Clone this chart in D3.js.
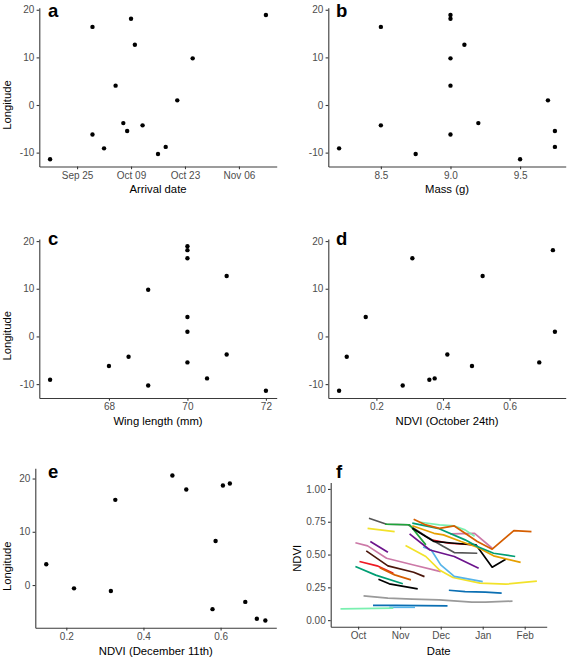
<!DOCTYPE html>
<html><head><meta charset="utf-8">
<script src="https://cdn.jsdelivr.net/npm/d3@7"></script>
<style>
body{margin:0;background:#fff}
svg{display:block}
text{font-family:"Liberation Sans",Arial,sans-serif}
</style>
</head><body>
<svg id="chart" width="567" height="659"></svg>
<script>
// ---------- data: birds (panels a-d) ----------
const arrivalDate = ["2014-09-18","2014-09-29","2014-09-29","2014-10-02","2014-10-05","2014-10-07","2014-10-08","2014-10-09","2014-10-10","2014-10-12","2014-10-16","2014-10-18","2014-10-21","2014-10-25","2014-11-13"];
const longitude   = [-11.4, 16.4, -6.2, -9.1, 4.06, -3.8, -5.45, 18.1, 12.66, -4.27, -10.3, -8.8, 0.98, 9.8, 18.9];
const massG       = [9.5, 8.5, 9.0, 8.2, 9.0, 9.2, 9.75, 9.0, 9.1, 8.5, 8.75, 9.75, 9.7, 9.0, 9.0];
const wingMm      = [72, 70, 68, 66.5, 70, 71, 70, 70, 71, 68.5, 69, 70.5, 70, 69, 70];
const ndviOct24   = [0.088, 0.308, 0.487, 0.359, 0.168, 0.413, 0.689, 0.730, 0.519, 0.111, 0.279, 0.375, 0.736, null, null];

// ---------- data: panel e ----------
const ndviDec11 = [0.148, 0.220, 0.3155, 0.327, 0.475, 0.511, 0.587, 0.579, 0.606, 0.624, 0.664, 0.694, 0.716];
const lonDec11  = [3.91, -0.62, -1.12, 16.0, 20.56, 17.95, 8.26, -4.53, 18.7, 19.07, -3.17, -6.34, -6.65];

// ---------- tick labels ----------
const aTicks = ["2014-09-25","2014-10-09","2014-10-23","2014-11-06"];
const lonTicks = [-10, 0, 10, 20];
const eLonTicks = [0, 10, 20];
const bTicks = [8.5, 9.0, 9.5];
const cTicks = [68, 70, 72];
const ndviTicks = [0.2, 0.4, 0.6];
const fDateTicks = ["2014-10-01","2014-11-01","2014-12-01","2015-01-01","2015-02-01"];
const fNdviTicks = [0, 0.25, 0.5, 0.75, 1.0];
const fNdviLimits = [0, 1];

// ---------- data: panel f NDVI tracks ([date, NDVI]) ----------
const trkDarkGray  = [["2014-10-09",0.777],["2014-10-22",0.731],["2014-11-07",0.727],["2014-11-20",0.64],["2014-12-03",0.561],["2014-12-11",0.515],["2014-12-28",0.51]];
const trkGreen     = [["2014-10-21",0.731],["2014-11-08",0.727],["2014-11-20",0.574]];
const trkYellowS   = [["2014-10-08",0.70],["2014-10-28",0.675]];
const trkPinkS     = [["2014-09-29",0.59],["2014-10-08",0.566],["2014-10-22",0.472],["2014-11-11",0.42],["2014-12-01",0.37]];
const trkPurpleS   = [["2014-10-10",0.60],["2014-10-23",0.518]];
const trkBrown     = [["2014-10-07",0.528],["2014-10-23",0.414],["2014-11-11",0.365],["2014-11-19",0.332]];
const trkRedS      = [["2014-10-02",0.447],["2014-10-15",0.414],["2014-10-27",0.358]];
const trkVermS     = [["2014-10-17",0.40],["2014-10-28",0.345],["2014-11-09",0.307]];
const trkTealS     = [["2014-09-29",0.409],["2014-10-14",0.343],["2014-11-03",0.277]];
const trkBlackS    = [["2014-10-16",0.312],["2014-10-24",0.277],["2014-11-14",0.239]];
const trkGray      = [["2014-10-05",0.185],["2014-10-23",0.168],["2014-11-10",0.16],["2014-11-30",0.155],["2014-12-24",0.137],["2015-01-03",0.137],["2015-01-23",0.145]];
const trkBlueLow   = [["2014-10-12",0.112],["2014-10-29",0.112],["2014-12-06",0.109]];
const trkSkyLow    = [["2014-10-24",0.098],["2014-11-12",0.098]];
const trkMintLow   = [["2014-09-18",0.086],["2014-10-27",0.091]];
const trkBlueUp    = [["2014-12-07",0.228],["2014-12-19",0.218],["2015-01-03",0.213],["2015-01-15",0.206]];
const trkYellowL   = [["2014-11-05",0.569],["2014-11-20",0.485],["2014-11-30",0.383],["2014-12-10",0.325],["2014-12-30",0.282],["2015-01-18",0.274],["2015-02-10",0.297]];
const trkSkyL      = [["2014-11-18",0.558],["2014-11-24",0.535],["2014-12-01",0.421],["2014-12-11",0.333],["2015-01-01",0.294]];
const trkPurpleL   = [["2014-11-08",0.657],["2014-11-23",0.535],["2014-12-11",0.485],["2014-12-29",0.396]];
const trkBlackL    = [["2014-11-10",0.70],["2014-11-26",0.60],["2014-12-11",0.586],["2014-12-27",0.574],["2015-01-08",0.404],["2015-01-18",0.464]];
const trkRedL      = [["2014-11-25",0.61],["2014-12-07",0.586],["2014-12-27",0.574]];
const trkOrangeL   = [["2014-11-10",0.72],["2014-11-26",0.662],["2014-12-03",0.65],["2014-12-16",0.599],["2014-12-28",0.556],["2015-01-09",0.49],["2015-01-29",0.44]];
const trkTealL     = [["2014-11-10",0.739],["2014-11-29",0.70],["2014-12-19",0.612],["2014-12-28",0.561],["2015-01-09",0.51],["2015-01-25",0.485]];
const trkPinkL     = [["2014-12-08",0.657],["2014-12-26",0.662],["2015-01-08",0.548]];
const trkMintUp    = [["2014-11-16",0.746],["2014-11-30",0.726],["2014-12-11",0.718],["2014-12-19",0.688],["2014-12-26",0.64]];
const trkVermL     = [["2014-11-11",0.769],["2014-11-20",0.726],["2014-11-30",0.70],["2014-12-11",0.718],["2014-12-19",0.662],["2014-12-28",0.599],["2015-01-08",0.541],["2015-01-24",0.683],["2015-02-06",0.675]];

const fTracks = [trkGray, trkBlueLow, trkSkyLow, trkMintLow, trkBlueUp, trkPinkS, trkPurpleS, trkBrown, trkRedS, trkVermS, trkTealS, trkBlackS, trkYellowS,
  trkYellowL, trkSkyL, trkPurpleL, trkDarkGray, trkGreen, trkPinkL, trkRedL, trkBlackL, trkOrangeL, trkTealL, trkMintUp, trkVermL];
const fColors = ["#9a9a9a","#0b6fb3","#56b4e9","#7af0b0","#0b6fb3","#cc79a7","#6c148c","#4a160a","#ee1a24","#d55e00","#009e73","#000000","#f2e22a",
  "#f2e22a","#56b4e9","#6c148c","#555555","#1ea53a","#cc79a7","#ee1a24","#000000","#e69f00","#009e73","#7af0b0","#d55e00"];

// ---------- drawing ----------
const parse = d3.timeParse("%Y-%m-%d");
const svg = d3.select("#chart");
const pad = (ext) => { const r = ext[1]-ext[0]; return [ext[0]-0.05*r, ext[1]+0.05*r]; };

function styleAxis(g){
  g.select(".domain").attr("stroke","#3a3a3a").attr("stroke-width",1.1);
  g.selectAll(".tick line").attr("stroke","#3a3a3a").attr("stroke-width",1.1);
  g.selectAll(".tick text").attr("fill","#4d4d4d").style("font-size","10px")
    .style("font-family","'Liberation Sans',Arial,sans-serif");
  g.attr("font-family",null).attr("font-size",null);
}

function drawAxes(rect, x, y, xTickVals, xFmt, yTickVals, yFmt){
  const gx = svg.append("g").attr("transform",`translate(0,${rect.y1})`)
    .call(d3.axisBottom(x).tickValues(xTickVals).tickFormat(xFmt).tickSize(2.7).tickSizeOuter(0).tickPadding(2.6));
  styleAxis(gx);
  const gy = svg.append("g").attr("transform",`translate(${rect.x0},0)`)
    .call(d3.axisLeft(y).tickValues(yTickVals).tickFormat(yFmt).tickSize(2.7).tickSizeOuter(0).tickPadding(2.3));
  styleAxis(gy);
}

function titles(rect, xTitle, xBase, yTitle, yTx, yTy){
  svg.append("text").attr("x",(rect.x0+rect.x1)/2).attr("y",xBase).attr("text-anchor","middle")
    .style("font-size","11.3px").attr("fill","#000").text(xTitle);
  if (yTitle) svg.append("text").attr("transform",`translate(${yTx},${yTy}) rotate(-90)`).attr("text-anchor","middle")
    .style("font-size","11.3px").attr("fill","#000").text(yTitle);
}

function letter(t, x, yb){
  svg.append("text").attr("x",x).attr("y",yb).style("font-size","18.5px").style("font-weight","bold").attr("fill","#000").text(t);
}

function scatter(rect, x, y, xs, ys){
  const pts = xs.map((v,i)=>({x:v, y:ys[i]})).filter(d=>d.x!==null && d.y!==null);
  svg.append("g").selectAll("circle").data(pts).join("circle")
    .attr("cx",d=>x(d.x)).attr("cy",d=>y(d.y)).attr("r",2.2).attr("fill","#000");
}

const intFmt = d => String(d);
const lonDomain = pad(d3.extent(longitude));

// Panel a
{
  const rect = {x0:39.3, x1:276.7, y0:7.8, y1:166.5};
  const dates = arrivalDate.map(parse);
  const x = d3.scaleTime().domain(pad(d3.extent(dates).map(Number))).range([rect.x0, rect.x1]);
  const y = d3.scaleLinear().domain(lonDomain).range([rect.y1, rect.y0]);
  drawAxes(rect, x, y, aTicks.map(parse), d3.timeFormat("%b %d"), lonTicks, intFmt);
  scatter(rect, x, y, dates, longitude);
  titles(rect, "Arrival date", 193.3, "Longitude", 11.4, 105);
  letter("a", 48, 16.5);
}
// Panel b
{
  const rect = {x0:328.3, x1:565.7, y0:7.8, y1:166.5};
  const x = d3.scaleLinear().domain(pad(d3.extent(massG))).range([rect.x0, rect.x1]);
  const y = d3.scaleLinear().domain(lonDomain).range([rect.y1, rect.y0]);
  drawAxes(rect, x, y, bTicks, d3.format(".1f"), lonTicks, intFmt);
  scatter(rect, x, y, massG, longitude);
  titles(rect, "Mass (g)", 193.3, null);
  letter("b", 336, 16.5);
}
// Panel c
{
  const rect = {x0:39.3, x1:276.7, y0:239.1, y1:398};
  const x = d3.scaleLinear().domain(pad(d3.extent(wingMm))).range([rect.x0, rect.x1]);
  const y = d3.scaleLinear().domain(lonDomain).range([rect.y1, rect.y0]);
  drawAxes(rect, x, y, cTicks, intFmt, lonTicks, intFmt);
  scatter(rect, x, y, wingMm, longitude);
  titles(rect, "Wing length (mm)", 424.5, "Longitude", 11.4, 335.8);
  letter("c", 48, 244.8);
}
// Panel d
{
  const rect = {x0:328.3, x1:565.7, y0:239.1, y1:398};
  const x = d3.scaleLinear().domain(pad(d3.extent(ndviOct24.filter(v=>v!==null)))).range([rect.x0, rect.x1]);
  const y = d3.scaleLinear().domain(lonDomain).range([rect.y1, rect.y0]);
  drawAxes(rect, x, y, ndviTicks, d3.format(".1f"), lonTicks, intFmt);
  scatter(rect, x, y, ndviOct24, longitude);
  titles(rect, "NDVI (October 24th)", 424.5, null);
  letter("d", 336, 244.8);
}
// Panel e
{
  const rect = {x0:35.3, x1:276.3, y0:468.3, y1:627.7};
  const x = d3.scaleLinear().domain(pad(d3.extent(ndviDec11))).range([rect.x0, rect.x1]);
  const y = d3.scaleLinear().domain(pad(d3.extent(lonDec11))).range([rect.y1, rect.y0]);
  drawAxes(rect, x, y, ndviTicks, d3.format(".1f"), eLonTicks, intFmt);
  scatter(rect, x, y, ndviDec11, lonDec11);
  titles(rect, "NDVI (December 11th)", 654.5, "Longitude", 11.4, 566.3);
  letter("e", 48, 477.8);
}
// Panel f
{
  const rect = {x0:330.7, x1:546.7, y0:482.4, y1:626.7};
  const allDates = fTracks.flat().map(d=>parse(d[0]));
  const x = d3.scaleTime().domain(pad(d3.extent(allDates).map(Number))).range([rect.x0, rect.x1]);
  const y = d3.scaleLinear().domain(pad(fNdviLimits)).range([rect.y1, rect.y0]);
  drawAxes(rect, x, y, fDateTicks.map(parse), d3.timeFormat("%b"), fNdviTicks, d3.format(".2f"));
  const line = d3.line().x(d=>x(parse(d[0]))).y(d=>y(d[1]));
  svg.append("g").selectAll("path").data(fTracks).join("path")
    .attr("d", line).attr("fill","none").attr("stroke",(d,i)=>fColors[i])
    .attr("stroke-width",1.7).attr("stroke-linejoin","round").attr("stroke-linecap","butt");
  titles(rect, "Date", 654.5, "NDVI", 301.4, 558.3);
  letter("f", 336, 477.8);
}
</script>
</body></html>
